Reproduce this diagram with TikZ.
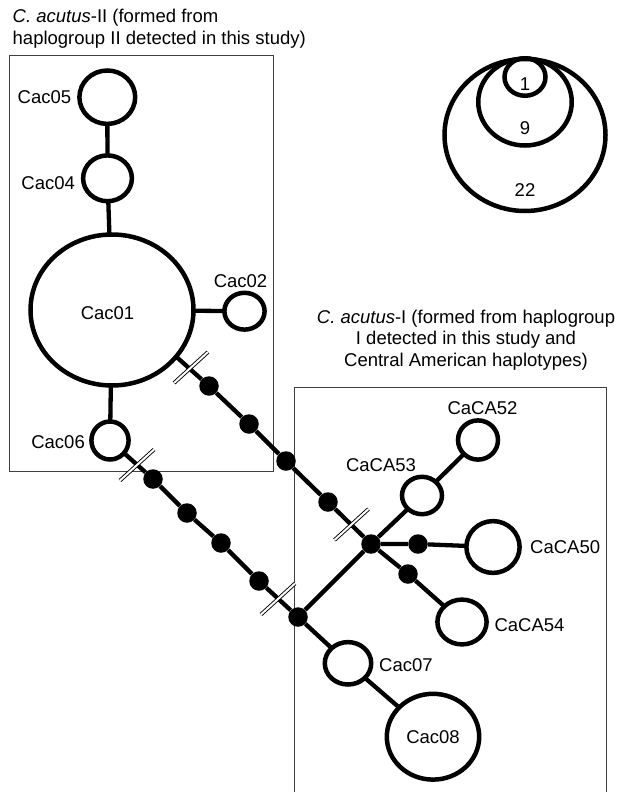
\documentclass[tikz,border=0pt]{standalone}
\usepackage{fontspec}
\setmainfont{Liberation Sans}
\usetikzlibrary{positioning,shapes.geometric}

\begin{document}
\begin{tikzpicture}[x=1pt,y=-1pt,
hap/.style={ellipse,draw,line width=4.5pt,inner sep=0pt,outer sep=0pt,
font=\fontsize{18.5}{21}\selectfont},
mut/.style={circle,fill,inner sep=0pt,minimum size=19.5pt},
edge/.style={line width=4.3pt},
hashmark/.style={line width=0.9pt,double=white,double distance=2pt},
grp/.style={line width=1pt,draw=black!75},
lbl/.style={inner sep=0pt,font=\fontsize{18.5}{21}\selectfont},
ttl/.style={inner sep=0pt,font=\fontsize{18.5}{21.5}\selectfont}
]
\useasboundingbox (0,0) rectangle (617,792);

% group boxes
\draw[grp] (9.3,55.7) rectangle (273.3,471);
\draw[grp] (294,792) |- (606.7,387) -- (606.7,792);

\node[ttl,anchor=north west,align=left] (titleII) at (12.5,9.2)
{\textit{C. acutus}-II (formed from\\haplogroup II detected in this study)};
\node[ttl,anchor=north,align=center] (titleI) at (466,309.8)
{\textit{C. acutus}-I (formed from haplogroup\\I detected in this study and\\Central American haplotypes)};

% size legend
\node[hap,minimum width=161pt,minimum height=152pt] (size22) at (525,135) {};
\node[hap,minimum width=93.5pt,minimum height=87pt] (size9) at (525,102) {};
\node[hap,minimum width=41pt,minimum height=37.5pt] (size1) at (525,77) {};
\node[lbl] (num1) at (525,84) {1};
\node[lbl] (num9) at (525,128.3) {9};
\node[lbl] (num22) at (525,190) {22};

% haplogroup II
\node[hap,minimum width=55.8pt,minimum height=53.4pt] (Cac05) at (107.3,97.2) {};
\node[hap,minimum width=48.8pt,minimum height=45.8pt] (Cac04) at (107.5,178.3) {};
\node[hap,minimum width=163pt,minimum height=151pt] (Cac01) at (112,310) {};
\node[hap,minimum width=40.2pt,minimum height=36.8pt] (Cac02) at (244.5,311.2) {};
\node[hap,minimum width=37.2pt,minimum height=38pt] (Cac06) at (110,440.5) {};
\node[lbl,xshift=-4.5pt,yshift=-3pt] (l01) at (Cac01) {Cac01};
\node[lbl,left=8pt of Cac05] (l05) {Cac05};
\node[lbl,left=8pt of Cac04,yshift=-5pt] (l04) {Cac04};
\node[lbl,above=5pt of Cac02,xshift=-4pt] (l02) {Cac02};
\node[lbl,left=6.4pt of Cac06,yshift=-2pt] (l06) {Cac06};

% haplogroup I
\node[hap,minimum width=40pt,minimum height=39.2pt] (CaCA52) at (478,440) {};
\node[hap,minimum width=40pt,minimum height=37.4pt] (CaCA53) at (422,495.5) {};
\node[hap,minimum width=53.2pt,minimum height=51.8pt] (CaCA50) at (493,547) {};
\node[hap,minimum width=49.2pt,minimum height=44.8pt] (CaCA54) at (462,622) {};
\node[hap,minimum width=46.4pt,minimum height=42.4pt] (Cac07) at (348,663.3) {};
\node[hap,minimum width=92.4pt,minimum height=85.8pt] (Cac08) at (433,736.7) {Cac08};
\node[lbl,above=5.4pt of CaCA52,xshift=4.5pt] (l52) {CaCA52};
\node[lbl,above=4.5pt of CaCA53,xshift=-41pt] (l53) {CaCA53};
\node[lbl,right=10.4pt of CaCA50] (l50) {CaCA50};
\node[lbl,right=7.7pt of CaCA54,yshift=-3pt] (l54) {CaCA54};
\node[lbl,right=7.8pt of Cac07,yshift=-1.7pt] (l07) {Cac07};

% missing haplotypes
\node[mut] (m1) at (209,386) {};
\node[mut] (m2) at (249,424) {};
\node[mut] (m3) at (286,461) {};
\node[mut] (m4) at (328,502) {};
\node[mut] (J1) at (371,544) {};
\node[mut] (m5) at (153,479) {};
\node[mut] (m6) at (187,513) {};
\node[mut] (m7) at (221,543) {};
\node[mut] (m8) at (259,581) {};
\node[mut] (J2) at (298,617) {};
\node[mut] (m9) at (418,544) {};
\node[mut] (m10) at (408,574) {};

\draw[edge] (Cac05) -- (Cac04);
\draw[edge] (Cac04) -- (Cac01);
\draw[edge] (Cac01) -- (Cac02);
\draw[edge] (Cac01) -- (Cac06);
\draw[edge] (Cac01.-36) -- (m1) -- (m2) -- (m3) -- (m4) -- (J1);
\draw[edge] (Cac06) -- (m5) -- (m6) -- (m7) -- (m8) -- (J2);
\draw[edge] (J2) -- (J1);
\draw[edge] (J1) -- (CaCA53) -- (CaCA52);
\draw[edge] (J1) -- (m9) -- (CaCA50);
\draw[edge] (J1) -- (m10) -- (CaCA54);
\draw[edge] (J2) -- (Cac07) -- (Cac08);

% breaks
\draw[hashmark] (191,367.5) ++(-17,15.5) -- ++(34,-31);
\draw[hashmark] (351.5,524.5) ++(-17,15.5) -- ++(34,-31);
\draw[hashmark] (137,465) ++(-17,15.5) -- ++(34,-31);
\draw[hashmark] (278,599) ++(-17,15.5) -- ++(34,-31);
\end{tikzpicture}
\end{document}
